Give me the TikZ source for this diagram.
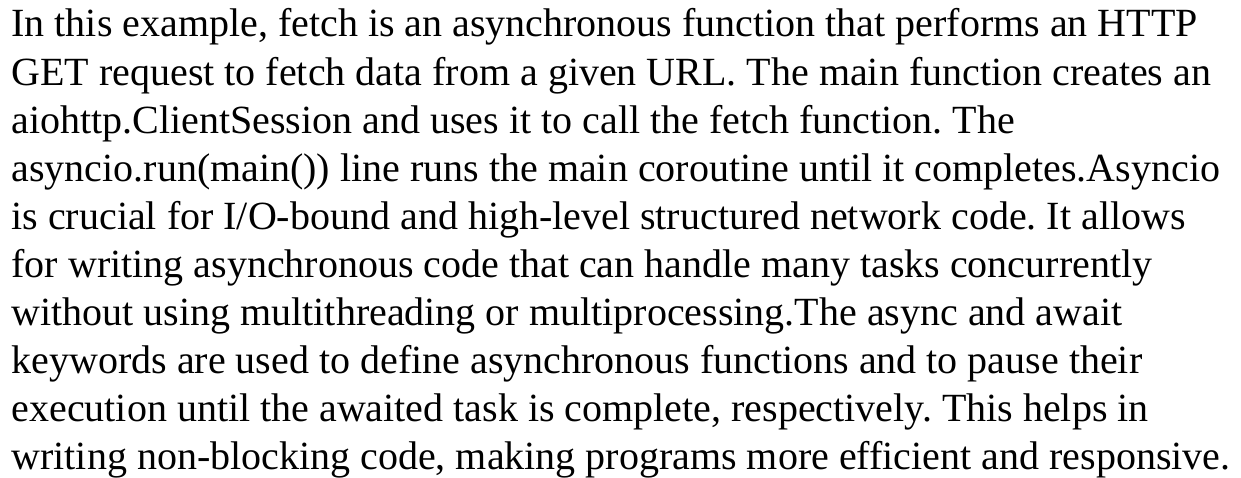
\documentclass[tikz,border=0pt]{standalone}
\usepackage{fontspec}
\setmainfont{Liberation Serif}
\begin{document}
\begin{tikzpicture}[x=1pt,y=1pt,
  textline/.style={anchor=base west, inner sep=0pt, outer sep=0pt,
    font=\fontsize{40}{48}\selectfont\frenchspacing}]
\useasboundingbox (0,0) rectangle (1241,478);
\foreach \i/\t in {
  1/{In this example, fetch is an asynchronous function that performs an HTTP},
  2/{GET request to fetch data from a given URL. The main function creates an},
  3/{aiohttp.ClientSession and uses it to call the fetch function. The},
  4/{asyncio.run(main()) line runs the main coroutine until it completes.Asyncio},
  5/{is crucial for I/O-bound and high-level structured network code. It allows},
  6/{for writing asynchronous code that can handle many tasks concurrently},
  7/{without using multithreading or multiprocessing.The async and await},
  8/{keywords are used to define asynchronous functions and to pause their},
  9/{execution until the awaited task is complete, respectively. This helps in},
  10/{writing non-blocking code, making programs more efficient and responsive.}}
  \node[textline] (l\i) at (11.5, 478-37-48.08*\i+48.08) {\t};
\end{tikzpicture}
\end{document}
